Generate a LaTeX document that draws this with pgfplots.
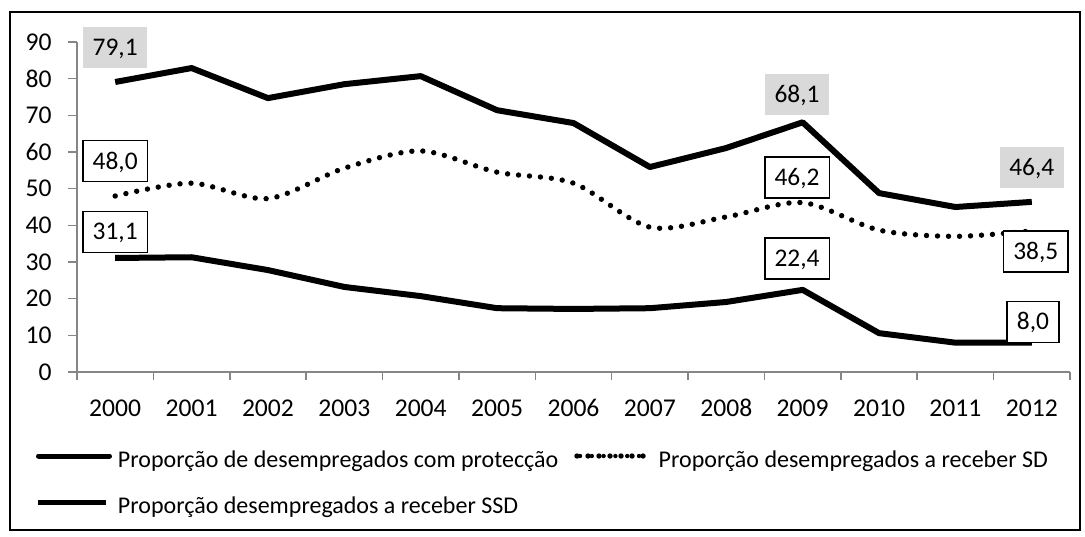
\documentclass[border=0pt,12pt]{standalone}
\usepackage{fontspec}
\setmainfont{Carlito}
\usepackage{pgfplots}
\pgfplotsset{compat=1.18}
\definecolor{axisgray}{RGB}{134,134,134}
\definecolor{boxgray}{RGB}{217,217,217}
\begin{document}
\begin{tikzpicture}
\path[use as bounding box] (-38.5pt,-82pt) rectangle (504pt,186pt);
\draw[line width=1pt] (-33.5pt,-79pt) rectangle (501.5pt,180pt);
\begin{axis}[
 at={(0pt,0pt)}, anchor=south west,
 scale only axis, width=496.5pt, height=165pt,
 xmin=-0.5, xmax=12.5, ymin=0, ymax=90,
 clip=false,
 axis x line*=bottom, axis y line*=left,
 axis line style={draw=axisgray, line width=0.75pt, -},
 xtick={0,1,2,3,4,5,6,7,8,9,10,11,12},
 xticklabels={2000,2001,2002,2003,2004,2005,2006,2007,2008,2009,2010,2011,2012},
 minor xtick={-0.5,0.5,1.5,2.5,3.5,4.5,5.5,6.5,7.5,8.5,9.5,10.5,11.5,12.5},
 ytick={0,10,20,30,40,50,60,70,80,90},
 tick align=outside,
 major tick length=4.5pt, minor tick length=4pt,
 tick style={draw=axisgray, line width=0.75pt},
 major x tick style={draw=none},
 minor tick style={draw=axisgray, line width=0.75pt},
 /pgf/number format/assume math mode=true,
 ticklabel style={font=\fontsize{12.8}{15}\selectfont},
 yticklabel style={inner xsep=0pt, xshift=-8pt},
 xticklabel style={inner ysep=0pt, anchor=north, yshift=-9.5pt, text height=8.1pt, text depth=0pt},
 legend columns=2,
 legend cell align=left,
 legend style={draw=none, fill=none, inner sep=0pt, outer sep=0pt,
   at={(axis description cs:0,0)}, anchor=north west, xshift=-20.5pt, yshift=-38.5pt,
   font=\fontsize{12}{14}\selectfont,
   nodes={inner xsep=0pt, inner ysep=0pt, text height=9pt, text depth=3pt},
   row sep=11pt,
   /tikz/every odd column/.append style={column sep=3pt},
   /tikz/every even column/.append style={column sep=8pt}},
]
\addplot[black, line width=3pt, line join=round,
  legend image code/.code={\draw[black, line width=2.5pt, line cap=round] (0pt,2.5pt) -- (35.5pt,2.5pt);}]
  coordinates {(0,79.1)(1,82.9)(2,74.7)(3,78.5)(4,80.7)(5,71.4)(6,67.9)(7,55.9)(8,61.1)(9,68.1)(10,48.8)(11,45.0)(12,46.4)};
\addlegendentry{Proporção de desempregados com protecção}
\addplot[black, line width=2.7pt, smooth, line cap=round, dash pattern=on 0pt off 5.5pt,
  legend image code/.code={\path (0pt,2.5pt) -- (36.5pt,2.5pt); \draw[black, line width=2.2pt, line cap=round, dash pattern=on 0pt off 5.9pt] (1.5pt,2.5pt) -- (31pt,2.5pt);}]
  coordinates {(0,48.0)(1,51.5)(2,47.3)(3,55.6)(4,60.3)(5,54.5)(6,51.5)(7,39.5)(8,42.3)(9,46.2)(10,38.7)(11,37.0)(12,38.5)};
\addlegendentry{Proporção desempregados a receber SD}
\addplot[black, line width=3pt, line join=round,
  legend image code/.code={\draw[black, line width=2.5pt] (0pt,2.5pt) -- (34pt,2.5pt);}]
  coordinates {(0,31.1)(1,31.3)(2,27.8)(3,23.2)(4,20.7)(5,17.4)(6,17.2)(7,17.4)(8,19.1)(9,22.4)(10,10.6)(11,8.0)(12,8.0)};
\addlegendentry{Proporção desempregados a receber SSD}
\tikzset{lbl/.style={font=\fontsize{12.7}{15}\selectfont, inner xsep=4.9pt, inner ysep=6.3pt, text height=8pt, text depth=0pt},
  gbox/.style={lbl, fill=boxgray},
  wbox/.style={lbl, draw=black, line width=0.8pt, fill=white}}
\node[gbox, yshift=17.25pt] at (axis cs:0,79.1) {79,1};
\node[wbox, yshift=17.5pt] at (axis cs:0,48.0) {48,0};
\node[wbox, yshift=13pt] at (axis cs:0,31.1) {31,1};
\node[gbox, xshift=-2.8pt, yshift=14pt] at (axis cs:9,68.1) {68,1};
\node[wbox, xshift=-2.8pt, yshift=12.5pt] at (axis cs:9,46.2) {46,2};
\node[wbox, xshift=-2.8pt, yshift=15.75pt] at (axis cs:9,22.4) {22,4};
\node[gbox, yshift=17.25pt] at (axis cs:12,46.4) {46,4};
\node[wbox, xshift=2pt, yshift=-10.25pt] at (axis cs:12,38.5) {38,5};
\node[wbox, xshift=0.6pt, yshift=10.35pt] at (axis cs:12,8.0) {8,0};
\end{axis}
\end{tikzpicture}
\end{document}
